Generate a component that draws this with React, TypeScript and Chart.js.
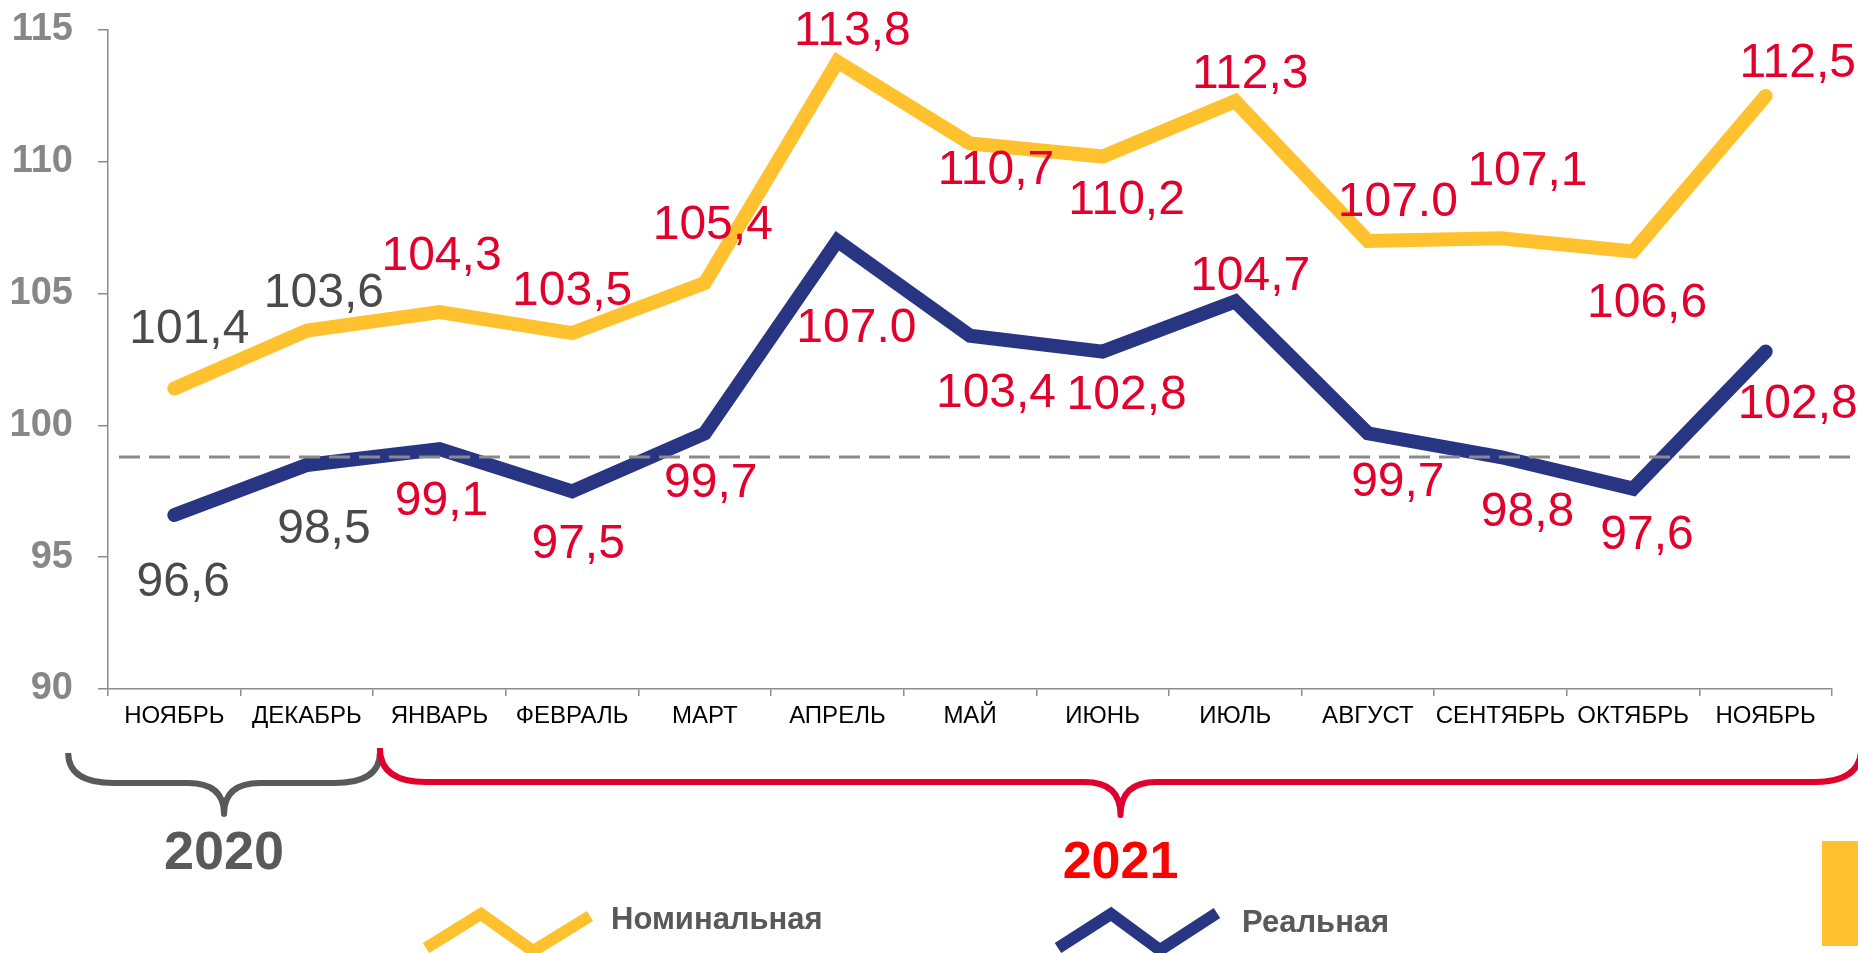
import React, { useEffect, useRef } from "react";
import { Chart, registerables } from "chart.js";

Chart.register(...registerables);

// ---------- data ----------
const months = ["НОЯБРЬ", "ДЕКАБРЬ", "ЯНВАРЬ", "ФЕВРАЛЬ", "МАРТ", "АПРЕЛЬ", "МАЙ", "ИЮНЬ", "ИЮЛЬ", "АВГУСТ", "СЕНТЯБРЬ", "ОКТЯБРЬ", "НОЯБРЬ"];
const nominal = [101.4, 103.6, 104.3, 103.5, 105.4, 113.8, 110.7, 110.2, 112.3, 107.0, 107.1, 106.6, 112.5];
const real = [96.6, 98.5, 99.1, 97.5, 99.7, 107.0, 103.4, 102.8, 104.7, 99.7, 98.8, 97.6, 102.8];
const nominalLabels = ["101,4", "103,6", "104,3", "103,5", "105,4", "113,8", "110,7", "110,2", "112,3", "107.0", "107,1", "106,6", "112,5"];
const realLabels = ["96,6", "98,5", "99,1", "97,5", "99,7", "107.0", "103,4", "102,8", "104,7", "99,7", "98,8", "97,6", "102,8"];
const yTicks = [90, 95, 100, 105, 110, 115];
const referenceLevel = 98.8;
const years = ["2020", "2021"];
const seriesNames = ["Номинальная", "Реальная"];

// ---------- styles / label placement ----------
const FONT = "'Liberation Sans', Arial, Helvetica, sans-serif";
const YELLOW = "#FFC22E";
const BLUE = "#283583";
const RED_LABEL = "#E2002D";
const GRAY_LABEL = "#4a4a4a";
const AXIS = "#8c8c8c";
const nominalOffsets: [number, number][] = [[15, -59], [17, -37], [2, -55], [0, -41], [8, -57], [15, -30], [26, 27], [24, 44], [15, -26], [30, -38], [27, -66], [14, 52], [32, -32]];
const realOffsets: [number, number][] = [[9, 68], [17, 65], [2, 53], [6, 53], [6, 50], [19, 88], [26, 58], [24, 44], [15, -25], [30, 49], [27, 56], [14, 47], [32, 53]];
const grayLabelCount = 2;

function drawBrace(ctx: CanvasRenderingContext2D, x0: number, x1: number, yTopL: number, yTopR: number, yMid: number, yTip: number, color: string) {
  const xc = (x0 + x1) / 2;
  const rEnd = 46;
  const rTip = 36;
  ctx.save();
  ctx.strokeStyle = color;
  ctx.lineWidth = 6;
  ctx.lineJoin = "round";
  ctx.beginPath();
  ctx.moveTo(x0, yTopL);
  ctx.quadraticCurveTo(x0, yMid, x0 + rEnd, yMid);
  ctx.lineTo(xc - rTip, yMid);
  ctx.quadraticCurveTo(xc, yMid, xc, yTip);
  ctx.quadraticCurveTo(xc, yMid, xc + rTip, yMid);
  ctx.lineTo(x1 - rEnd, yMid);
  ctx.quadraticCurveTo(x1, yMid, x1, yTopR);
  ctx.stroke();
  ctx.restore();
}

const decorPlugin = {
  id: "decor",
  afterDatasetsDraw(chart: any) {
    const ctx: CanvasRenderingContext2D = chart.ctx;
    const ys = chart.scales.y;
    const area = chart.chartArea;
    // reference dashed line
    ctx.save();
    ctx.strokeStyle = "#8a8a8a";
    ctx.lineWidth = 3;
    ctx.setLineDash([21, 9]);
    const yr = ys.getPixelForValue(referenceLevel);
    ctx.beginPath();
    ctx.moveTo(area.left + 11, yr);
    ctx.lineTo(chart.width - 4, yr);
    ctx.stroke();
    ctx.restore();

    // data labels
    ctx.save();
    ctx.font = `48px ${FONT}`;
    ctx.textAlign = "center";
    ctx.textBaseline = "middle";
    const sets: [string[], [number, number][]][] = [[nominalLabels, nominalOffsets], [realLabels, realOffsets]];
    sets.forEach(([labels, offs], di) => {
      const meta = chart.getDatasetMeta(di);
      meta.data.forEach((pt: any, i: number) => {
        ctx.fillStyle = i < grayLabelCount ? GRAY_LABEL : RED_LABEL;
        ctx.fillText(labels[i], pt.x + offs[i][0], pt.y + offs[i][1]);
      });
    });
    ctx.restore();
  },
  afterDraw(chart: any) {
    const ctx: CanvasRenderingContext2D = chart.ctx;
    const xs = chart.scales.x;
    const bottom = chart.chartArea.bottom;
    const W = chart.width;
    const H = chart.height;

    // braces
    const gx0 = xs.getPixelForValue(-0.8);
    const split = xs.getPixelForValue(1.55);
    const rx1 = xs.getPixelForValue(12.72);
    drawBrace(ctx, gx0, split, bottom + 64, bottom + 64, bottom + 94, bottom + 125, "#595959");
    drawBrace(ctx, split, rx1, bottom + 59, bottom + 59, bottom + 93, bottom + 126, "#E0002D");

    // years
    ctx.save();
    ctx.textAlign = "center";
    ctx.textBaseline = "alphabetic";
    ctx.font = `bold 54px ${FONT}`;
    ctx.fillStyle = "#595959";
    ctx.fillText(years[0], (gx0 + split) / 2, bottom + 180);
    ctx.font = `bold 52px ${FONT}`;
    ctx.fillStyle = "#FF0000";
    ctx.fillText(years[1], (split + rx1) / 2, bottom + 189);
    ctx.restore();

    // legend
    const drawZig = (pts: [number, number][], color: string) => {
      ctx.save();
      ctx.strokeStyle = color;
      ctx.lineWidth = 12;
      ctx.lineJoin = "miter";
      ctx.lineCap = "butt";
      ctx.beginPath();
      pts.forEach(([px, py], k) => (k === 0 ? ctx.moveTo(px, py) : ctx.lineTo(px, py)));
      ctx.stroke();
      ctx.restore();
    };
    drawZig([[426, 948], [481, 914], [533, 951], [590, 916]], YELLOW);
    drawZig([[1058, 948], [1111, 914], [1160, 950], [1217, 913]], BLUE);
    ctx.save();
    ctx.font = `bold 31px ${FONT}`;
    ctx.fillStyle = "#595959";
    ctx.textAlign = "left";
    ctx.textBaseline = "alphabetic";
    ctx.fillText(seriesNames[0], 611, 929);
    ctx.fillText(seriesNames[1], 1242, 932);
    ctx.restore();

    // yellow block at right edge
    ctx.save();
    ctx.fillStyle = YELLOW;
    ctx.fillRect(W - 36, 841, 36, H - 841 - 7);
    ctx.restore();
  },
};

export default function App() {
  const ref = useRef<HTMLCanvasElement>(null);
  useEffect(() => {
    document.body.style.margin = "0";
    const chart = new Chart(ref.current as HTMLCanvasElement, {
      type: "line",
      data: {
        labels: months,
        datasets: [
          {
            label: seriesNames[0],
            data: nominal,
            borderColor: YELLOW,
            backgroundColor: YELLOW,
            borderWidth: 14,
            pointRadius: 0,
            tension: 0,
            borderCapStyle: "round",
            borderJoinStyle: "miter",
          },
          {
            label: seriesNames[1],
            data: real,
            borderColor: BLUE,
            backgroundColor: BLUE,
            borderWidth: 14,
            pointRadius: 0,
            tension: 0,
            borderCapStyle: "round",
            borderJoinStyle: "miter",
          },
        ],
      },
      options: {
        responsive: false,
        animation: false,
        devicePixelRatio: 1,
        layout: { padding: { top: 30, right: 26, bottom: 204, left: 0 } },
        plugins: { legend: { display: false }, tooltip: { enabled: false } },
        scales: {
          x: {
            type: "category",
            offset: true,
            grid: { drawOnChartArea: false, offset: true, tickLength: 7, color: AXIS, lineWidth: 1.5 },
            border: { color: AXIS, width: 1.5 },
            ticks: { color: "#000", font: { family: FONT, size: 24 }, padding: 6, maxRotation: 0, autoSkip: false },
            afterFit: (s: any) => {
              s.height = 60;
              s.paddingLeft = 0;
              s.paddingRight = 0;
            },
          },
          y: {
            min: 90,
            max: 115,
            afterBuildTicks: (s: any) => {
              s.ticks = yTicks.map((v) => ({ value: v }));
            },
            grid: { drawOnChartArea: false, tickLength: 10, color: AXIS, lineWidth: 1.5 },
            border: { color: AXIS, width: 1.5 },
            ticks: { color: "#878787", font: { family: FONT, size: 38, weight: "bold" }, padding: 25 },
            afterFit: (s: any) => {
              s.width = 108;
              s.paddingTop = 0;
              s.paddingBottom = 0;
            },
          },
        },
      },
      plugins: [decorPlugin],
    } as any);
    return () => chart.destroy();
  }, []);
  return (
    <div style={{ position: "absolute", left: 0, top: 0, width: 1858, height: 953, background: "#fff" }}>
      <canvas ref={ref} width={1858} height={953} style={{ display: "block", width: 1858, height: 953 }} />
    </div>
  );
}
